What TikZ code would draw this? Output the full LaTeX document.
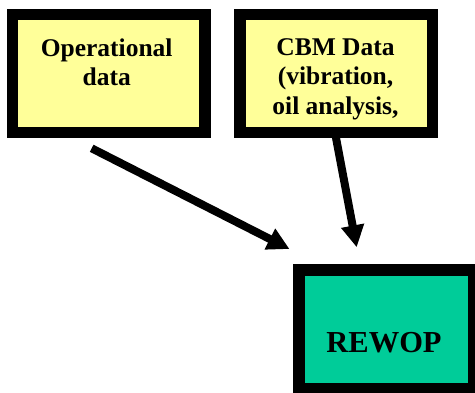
\documentclass[tikz,border=0pt]{standalone}
\usepackage{fontspec}
\setmainfont{Liberation Serif}
\usetikzlibrary{arrows.meta,calc}
\definecolor{boxyellow}{HTML}{FFFF99}
\definecolor{boxgreen}{HTML}{00CC99}
\begin{document}
\begin{tikzpicture}[x=1pt,y=-1pt,
  box/.style={draw=black,line width=11.5pt,rectangle,inner sep=0pt,outer sep=0pt},
  lbl/.style={font=\bfseries\fontsize{25.5}{29.5}\selectfont,align=center,inner sep=0pt},
  flow/.style={line width=8pt,-{Triangle[width=22pt,length=22pt]}}]
\useasboundingbox (0,0) rectangle (475,392);
\clip (0,0) rectangle (475,392);
\node[box,fill=boxyellow,minimum width=192.3pt,minimum height=118pt] (op) at (108.6,73.5) {};
\node[box,fill=boxyellow,minimum width=192.3pt,minimum height=118pt] (cbm) at (336.3,73.5) {};
\node[box,fill=boxgreen,minimum width=175pt,minimum height=118.5pt] (rw) at (386.4,329.3) {};
\node[lbl,anchor=north] (opt) at (106.7,38.2) {Operational\\data};
\node[lbl,anchor=north] (cbmt) at (335.5,38.2) {CBM Data\\(vibration,\\oil analysis,};
\node[font=\bfseries\fontsize{30.5}{34}\selectfont,inner sep=0pt,anchor=base] (rwt) at (384,352.7) {REWOP};
\coordinate (a1s) at (91.7,148.3);
\coordinate (a1e) at (289.5,249);
\coordinate (a2e) at (356.7,247.3);
\draw[flow] (a1s) -- (a1e);
\draw[flow] ($(cbm.south)+(-1.3,0)$) -- (a2e);
\end{tikzpicture}
\end{document}
